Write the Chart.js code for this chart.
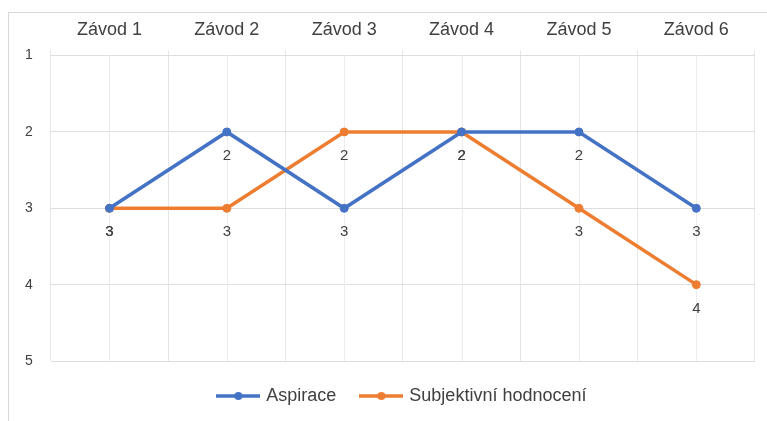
<!DOCTYPE html>
<html>
<head>
<meta charset="utf-8">
<script src="https://cdn.jsdelivr.net/npm/chart.js@4"></script>
<style>
  html, body { margin: 0; padding: 0; background: #fff; }
  #wrap { position: relative; width: 767px; height: 421px; overflow: hidden; }
  #frame { position: absolute; left: 8px; top: 12px; width: 800px; height: 500px;
           border-left: 1px solid #d9d9d9; border-top: 1px solid #d9d9d9; }
  #chart { position: absolute; left: 0; top: 0; }
</style>
</head>
<body>
<div id="wrap">
  <div id="frame"></div>
  <canvas id="chart" width="767" height="421"></canvas>
</div>
<script>
// Race placements (lower is better)
const races = ['Závod 1', 'Závod 2', 'Závod 3', 'Závod 4', 'Závod 5', 'Závod 6'];
const aspirace = [3, 2, 3, 2, 2, 3];
const hodnoceni = [3, 3, 2, 2, 3, 4];
const seriesNames = ['Aspirace', 'Subjektivní hodnocení'];
const seriesColors = ['#4472C4', '#ED7D31'];

const FONT = '"Liberation Sans", Arial, sans-serif';

// legend marker: short line with a dot in the middle
function legendMarker(color) {
    const c = document.createElement('canvas');
    c.width = 44;
    c.height = 10;
    const g = c.getContext('2d');
    g.strokeStyle = color;
    g.lineWidth = 3.5;
    g.beginPath();
    g.moveTo(0, 5);
    g.lineTo(44, 5);
    g.stroke();
    g.fillStyle = color;
    g.beginPath();
    g.arc(22, 5, 4, 0, Math.PI * 2);
    g.fill();
    return c;
}

// vertical gridlines through category centres
const centerLines = {
    id: 'centerLines',
    beforeDatasetsDraw(chart) {
        const { ctx, chartArea } = chart;
        const x = chart.scales.x;
        ctx.save();
        ctx.strokeStyle = '#ececec';
        ctx.lineWidth = 1;
        races.forEach((r, i) => {
            const px = Math.round(x.getPixelForValue(i)) + 0.5;
            ctx.beginPath();
            ctx.moveTo(px, chartArea.top);
            ctx.lineTo(px, chartArea.bottom);
            ctx.stroke();
        });
        ctx.restore();
    }
};

// value labels below each point
const pointLabels = {
    id: 'pointLabels',
    afterDatasetsDraw(chart) {
        const ctx = chart.ctx;
        ctx.save();
        ctx.font = '15px ' + FONT;
        ctx.fillStyle = '#404040';
        ctx.textAlign = 'center';
        ctx.textBaseline = 'middle';
        chart.data.datasets.forEach((ds, di) => {
            const meta = chart.getDatasetMeta(di);
            meta.data.forEach((pt, i) => {
                ctx.fillText(String(ds.data[i]), pt.x, pt.y + 24);
            });
        });
        ctx.restore();
    }
};

new Chart(document.getElementById('chart'), {
    type: 'line',
    data: {
        labels: races,
        datasets: [
            {
                label: seriesNames[0],
                data: aspirace,
                borderColor: seriesColors[0],
                backgroundColor: seriesColors[0],
                borderWidth: 3.5,
                pointRadius: 4,
                pointBorderWidth: 1,
                pointHoverRadius: 4,
                tension: 0
            },
            {
                label: seriesNames[1],
                data: hodnoceni,
                borderColor: seriesColors[1],
                backgroundColor: seriesColors[1],
                borderWidth: 3.5,
                pointRadius: 4,
                pointBorderWidth: 1,
                pointHoverRadius: 4,
                tension: 0
            }
        ]
    },
    options: {
        responsive: false,
        animation: false,
        layout: { padding: { left: 7, right: 12, top: 9, bottom: 6 } },
        plugins: {
            tooltip: { enabled: false },
            legend: {
                position: 'bottom',
                fullSize: false,
                labels: {
                    usePointStyle: true,
                    pointStyleWidth: 38,
                    boxHeight: 10,
                    color: '#404040',
                    font: { family: FONT, size: 18 },
                    padding: 26,
                    generateLabels(chart) {
                        return chart.data.datasets.map((ds, i) => ({
                            text: ds.label,
                            fillStyle: ds.borderColor,
                            strokeStyle: ds.borderColor,
                            lineWidth: 0,
                            pointStyle: legendMarker(ds.borderColor),
                            fontColor: '#404040',
                            hidden: false,
                            datasetIndex: i
                        }));
                    }
                }
            }
        },
        scales: {
            x: {
                position: 'top',
                offset: true,
                grid: { color: '#e6e6e6', tickLength: 5, offset: true },
                border: { display: false },
                ticks: { color: '#404040', font: { family: FONT, size: 18 }, padding: 10 }
            },
            y: {
                reverse: true,
                min: 1,
                max: 5,
                ticks: { stepSize: 1, color: '#404040', font: { family: FONT, size: 14 }, padding: 18 },
                grid: { color: '#dedede', drawTicks: false },
                border: { display: false }
            }
        }
    },
    plugins: [centerLines, pointLabels]
});
</script>
</body>
</html>
